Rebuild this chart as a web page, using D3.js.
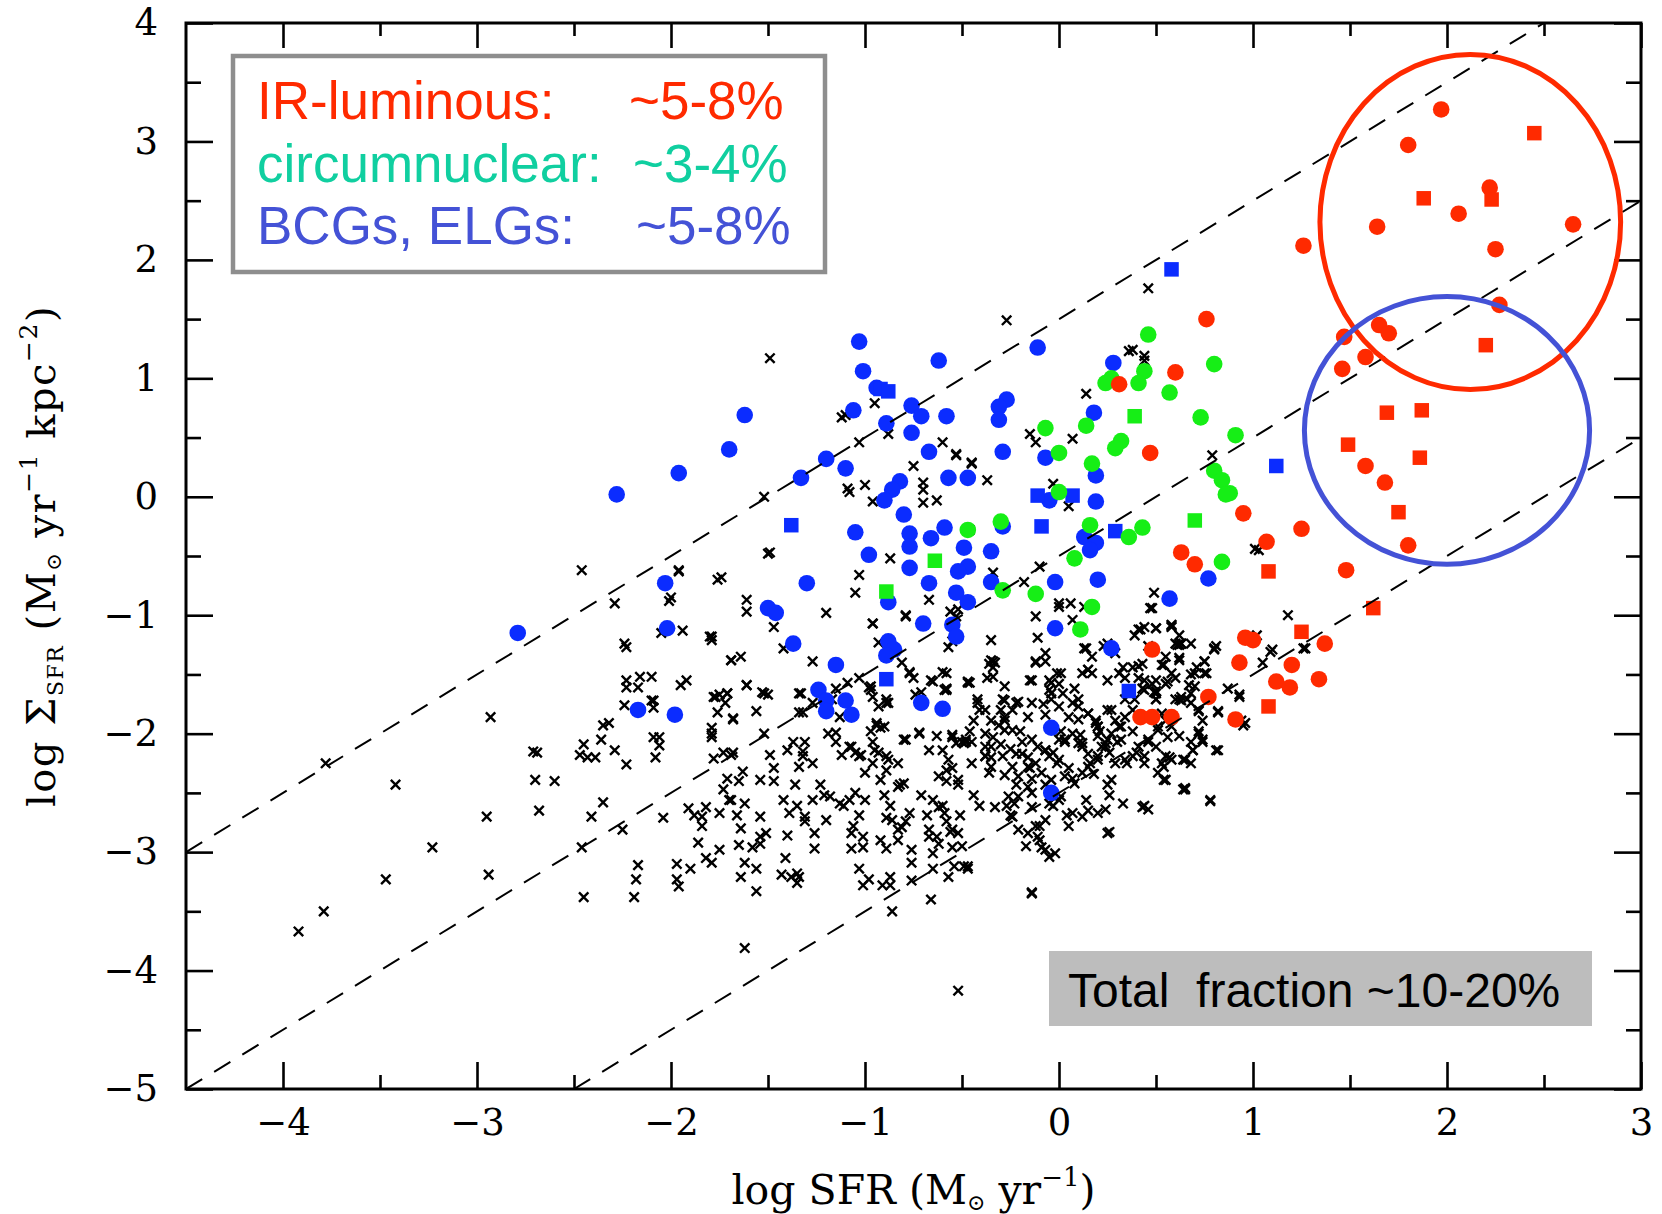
<!DOCTYPE html>
<html><head><meta charset="utf-8">
<script src="https://cdn.jsdelivr.net/npm/d3@7"></script>
<style>body{margin:0;background:#fff}</style>
</head><body>
<svg id="chart" width="1662" height="1214"></svg>
<script>
// ---------------- DATA ----------------
const xTicks = [-4,-3,-2,-1,0,1,2,3];
const xMinorTicks = [-3.5,-2.5,-1.5,-0.5,0.5,1.5,2.5];
const yTicks = [4,3,2,1,0,-1,-2,-3,-4,-5];
const yMinorTicks = [3.5,2.5,1.5,0.5,-0.5,-1.5,-2.5,-3.5,-4.5];
const lineOffsets = [1.5,-0.5,-2.5]; // dashed lines: y = x + c

const legendLabels = ["IR-luminous:","circumnuclear:","BCGs, ELGs:"];
const legendValues = ["~5-8%","~3-4%","~5-8%"];
const totalLabel = "Total  fraction ~10-20%";

// annotation ellipses: [cx, cy, rx, ry] in data units
const redRing = [2.12,2.32,0.775,1.415];
const blueRing = [2.0,0.56,0.735,1.13];

const redCircles = [[1.97,3.27],[1.80,2.97],[2.22,2.61],[2.06,2.39],[1.64,2.28],[2.65,2.30],[2.25,2.09],[1.26,2.12],[2.27,1.62],[1.65,1.45],[1.70,1.38],[1.47,1.35],[1.58,1.18],[1.46,1.08],[1.58,0.26],[1.68,0.12],[1.80,-0.41],
[0.76,1.50],[0.60,1.05],[0.31,0.95],[0.47,0.37],[0.95,-0.14],[1.25,-0.27],[1.07,-0.38],[0.63,-0.47],[0.70,-0.57],[1.48,-0.62],[1.37,-1.24],[0.96,-1.19],[1.00,-1.21],[0.93,-1.40],[0.48,-1.29],[1.20,-1.42],[1.12,-1.56],[1.19,-1.61],[1.34,-1.54],[0.77,-1.69],[0.91,-1.88],[0.42,-1.86],[0.48,-1.86],[0.58,-1.86]];
const redSquares = [[2.45,3.07],[1.88,2.52],[2.23,2.51],[2.20,1.28],[1.69,0.71],[1.87,0.73],[1.49,0.44],[1.86,0.33],[1.75,-0.13],[1.08,-0.63],[1.62,-0.94],[1.25,-1.14],[1.08,-1.77]];

const greenCircles = [[0.46,1.37],[0.80,1.12],[0.27,1.00],[0.24,0.96],[0.44,1.06],[0.41,0.96],[0.57,0.88],[0.73,0.67],[0.91,0.52],[-0.07,0.58],[0.14,0.60],[0.32,0.47],[0.29,0.41],[0.00,0.37],[0.17,0.28],[0.80,0.22],[0.84,0.14],[0.88,0.03],[0.86,0.02],[0.00,0.04],[-0.30,-0.21],[-0.47,-0.28],[0.16,-0.24],[0.43,-0.26],[0.36,-0.34],[0.08,-0.52],[0.84,-0.55],[-0.29,-0.79],[-0.12,-0.82],[0.17,-0.93],[0.11,-1.12]];
const greenSquares = [[0.39,0.68],[0.70,-0.20],[-0.64,-0.54],[-0.89,-0.80]];

const blueCircles = [[-1.03,1.31],[-0.62,1.15],[-1.01,1.06],[-0.94,0.92],[-1.06,0.73],[-0.76,0.77],[-0.71,0.68],[-0.58,0.68],[-0.89,0.62],[-0.76,0.54],[-0.67,0.38],[-1.62,0.69],[-1.70,0.40],[-1.96,0.20],[-2.28,0.02],[-1.20,0.32],[-1.10,0.24],[-1.33,0.16],[-0.82,0.13],[-0.86,0.06],[-0.90,-0.03],[-0.57,0.16],[-0.47,0.16],[-0.80,-0.15],[-1.05,-0.30],[-0.77,-0.31],[-0.77,-0.42],[-0.59,-0.26],[-0.66,-0.35],[-0.49,-0.43],[-0.98,-0.49],[-0.77,-0.60],[-0.47,-0.59],[-0.52,-0.63],[-0.67,-0.73],[-0.53,-0.81],[-0.47,-0.89],[-0.88,-0.89],[-2.03,-0.73],[-1.30,-0.73],[-1.50,-0.94],[-1.46,-0.98],[-0.70,-1.07],[-0.55,-1.08],[-0.53,-1.18],[-2.02,-1.11],[-2.79,-1.15],[-1.37,-1.24],[-0.88,-1.22],[-0.85,-1.29],[-0.89,-1.34],[-1.15,-1.42],[-1.24,-1.63],[-1.20,-1.72],[-1.20,-1.81],[-1.10,-1.72],[-1.07,-1.84],[-0.71,-1.74],[-0.60,-1.79],[-2.17,-1.80],[-1.98,-1.84],
[-0.11,1.26],[0.28,1.13],[-0.27,0.82],[-0.31,0.76],[-0.31,0.65],[0.18,0.71],[-0.29,0.38],[-0.07,0.33],[0.19,0.18],[-0.05,-0.03],[0.19,-0.04],[-0.29,-0.25],[0.13,-0.34],[0.19,-0.39],[0.16,-0.45],[-0.35,-0.46],[-0.35,-0.72],[-0.02,-0.72],[0.20,-0.70],[0.77,-0.69],[0.57,-0.86],[-0.02,-1.11],[0.27,-1.28],[-0.04,-1.95],[-0.04,-2.50]];
const blueSquares = [[-0.92,0.91],[-0.88,0.89],[-1.38,-0.24],[-0.89,-1.54],[-0.11,0.01],[0.07,0.01],[-0.09,-0.25],[0.29,-0.29],[0.36,-1.64],[1.12,0.26],[0.58,1.92]];

const crossPoints = [
[-3.92,-3.67],[-3.79,-3.50],[-3.78,-2.25],[-3.47,-3.23],[-3.42,-2.43],[-3.23,-2.96],[-2.93,-1.86],[-2.95,-2.70],[-2.94,-3.19],
[-2.69,-2.16],[-2.70,-2.39],[-2.60,-2.40],[-2.68,-2.65],[-2.45,-3.38],[-2.41,-2.70],[-2.35,-2.58],[-2.46,-2.96],[-2.25,-2.81],
[-2.17,-3.11],[-2.18,-3.23],[-2.23,-1.27],[-2.23,-1.55],[-2.16,-1.52],[-2.10,-1.52],[-2.23,-1.61],[-2.17,-1.61],[-2.10,-1.72],
[-2.32,-1.91],[-2.35,-1.93],[-2.45,-2.09],[-2.36,-2.05],[-2.29,-2.14],[-2.47,-2.18],[-2.43,-2.20],[-2.39,-2.20],[-2.23,-2.26],
[-2.09,-2.03],[-2.08,-2.20],[-2.46,-0.62],[-2.29,-0.90],[-1.96,-0.63],[-2.01,-0.88],[-1.79,-1.21],[-1.76,-0.70],[-1.94,-1.13],
[-2.24,-1.24],[-2.09,-1.78],[-2.06,-2.10],[-2.04,-2.71],[-1.97,-3.10],[-1.97,-3.23],[-2.19,-3.38],[-1.96,-3.29],[-1.90,-3.14],
[-2.71,-2.15],[-2.05,-1.15],[-1.52,0.00],[-1.49,1.17],[-1.49,-0.47],[-1.50,-0.48],[-1.47,-1.10],[-1.64,-1.35],[-1.62,-3.81],
[-1.91,-2.63],[-1.88,-2.69],[-1.84,-2.78],[-1.86,-2.92],[-1.82,-3.05],[-1.75,-1.67],[-1.73,-2.16],[-1.71,-2.38],[-1.69,-2.56],
[-1.66,-2.69],[-1.64,-2.80],[-1.58,-2.96],[-1.56,-3.14],[-1.54,-2.87],[-1.49,-2.18],[-1.47,-2.29],[-1.41,-3.05],[-1.38,-3.21],
[-1.35,-2.61],[-1.31,-2.74],[-1.34,-3.21],[-1.31,-2.07],[-1.27,-2.25],[-1.23,-2.43],[-1.21,-2.52],[-1.20,-0.98],[-1.17,-1.71],
[-1.15,-1.62],[-1.15,-2.07],[-1.12,-2.18],[-1.11,-2.61],[-1.06,-2.78],[-1.10,0.69],[-1.09,0.07],[-1.05,-0.81],[-1.03,-1.53],
[-1.03,-2.69],[-1.01,-2.96],[-0.98,-3.23],[-0.97,-1.98],[-0.96,-2.07],[-0.93,-2.16],[-0.95,0.79],[-0.90,-2.52],[-0.87,-2.61],
[-0.88,0.53],[-0.87,-3.28],[-0.86,-3.50],[-0.83,-2.25],[-0.82,-2.43],[-0.81,-1.40],[-0.79,-2.74],[-0.75,-1.53],[-0.74,-1.67],
[-0.75,0.26],[-0.70,0.06],[-0.71,-2.52],[-0.68,-2.69],[-0.67,-2.87],[-0.66,-3.40],[-0.63,-2.02],[-0.60,-2.14],[-0.60,-2.61],
[-0.58,-2.74],[-0.56,-2.83],[-0.55,-2.96],[-0.58,-1.62],[-0.55,-2.29],[-0.52,-2.43],[-0.53,0.35],[-0.52,-0.95],[-0.52,-4.17],
[-0.51,-2.69],[-0.49,-3.12],[-0.47,-3.14],[-0.46,-1.98],[-0.45,-2.07],[-0.44,-1.89],[-0.46,-0.28],[-0.44,-2.52],[-0.41,-2.61],
[-0.38,-2.11],[-0.35,-2.20],[-0.37,-1.53],[-0.34,-1.44],[-0.33,-1.40],[-0.30,-1.80],[-0.28,-1.89],[-0.27,1.49],[-0.27,-2.61],
[-0.25,-2.69],[-0.22,-2.43],[-0.21,-2.53],[-0.20,-1.98],[-0.19,-2.07],[-0.16,-2.20],[-0.15,-2.29],[-0.14,-2.38],[-0.14,-3.34],
[-0.12,-2.78],[-0.11,-2.87],[-0.09,-2.96],[-0.08,-1.75],[-0.07,-1.84],[-0.07,-2.43],[-0.04,-2.52],[-0.03,-2.61],[-0.03,-2.16],
[-0.01,-2.25],[-0.01,-1.49],[0.00,-1.58],[0.01,-1.98],[0.03,-2.07],[0.04,-2.69],[0.05,-2.78],[0.05,-2.29],[0.07,-2.38],[0.08,-1.62],
[0.10,-1.71],[0.11,-2.01],[0.12,-2.11],[0.14,-2.56],[0.15,-2.65],[0.16,-2.25],[0.18,-2.34],[0.17,-1.35],[0.19,-1.89],[0.21,-1.98],
[0.22,-2.11],[0.23,-1.26],[0.25,-2.43],[0.26,-2.52],[0.26,-2.83],[0.27,-1.80],[0.29,-1.89],[0.30,-2.07],[0.33,-1.44],[0.34,-1.53],
[0.34,-1.71],[0.35,-2.25],[0.38,-1.98],[0.39,-1.17],[0.41,-1.53],[0.43,-1.62],[0.44,-2.61],[0.46,-1.26],[0.46,-2.07],[0.46,1.76],
[0.49,-0.81],[0.50,-1.71],[0.55,-1.89],[0.55,-1.35],[0.57,-2.20],[0.60,-1.53],[0.62,-1.17],[0.64,-2.47],[0.66,-1.71],[0.68,-2.07],
[0.71,-1.44],[0.74,-1.89],[0.78,-2.56],[0.79,0.35],[0.81,-1.26],[0.87,-1.62],[0.94,-1.89],[1.01,-0.44],[1.02,-1.17],[1.05,-1.40],
[1.18,-1.00],[0.38,1.24],[0.44,1.19],[0.36,1.23],[0.44,1.15],[0.14,0.87],[-0.15,0.53],[-0.12,0.46],[0.07,0.49],[-0.45,0.28],
[-0.37,0.14],[-0.03,0.11],[0.05,-0.08],[1.03,-0.45],[-0.10,-0.59],[-0.18,-0.72],[-0.34,-0.64],[0.00,-0.93],[0.06,-0.90],
[0.47,-0.94],[0.42,-1.12],[0.50,-1.11],[0.58,-1.10],[-0.11,-1.19],[0.14,-1.28],[0.62,-1.25],[0.80,-1.29],[0.75,-1.39],[1.10,-1.29],
[1.27,-1.28],[-0.34,-1.39],[-0.12,-1.39],[-0.07,-1.32],[0.01,-1.49],[0.12,-1.49],[0.15,-1.46],[-0.46,-1.57],[-0.34,-1.52],
[-0.15,-1.55],[-0.05,-1.55],[-0.04,-1.66],[-0.42,-1.74],[-0.22,-1.74],[-0.28,-1.72],[0.31,-1.49],[0.41,-1.43],[0.44,-1.55],
[0.50,-1.64],[0.53,-1.42],[0.62,-1.36],[0.68,-1.50],[0.76,-1.49],[0.70,-1.60],[0.60,-1.71],[0.63,-1.69],[0.72,-1.81],[0.82,-1.82],
[0.93,-1.67],[0.96,-1.91],[0.72,-2.00],[0.74,-2.05],[0.82,-2.14],[0.69,-2.14],[0.51,-1.97],[0.56,-2.03],[0.50,-2.11],[0.32,-2.05],
[0.20,-1.94],[0.24,-2.08],[0.15,-1.83],[0.05,-1.86],[-0.28,-1.86],[-0.24,-1.97],[-0.34,-2.03],[-0.41,-1.80],[-0.48,-2.07],
[-0.19,-2.17],[-0.07,-2.14],[0.00,-2.05],[0.10,-2.08],[0.20,-2.19],[0.26,-2.16],[0.40,-2.16],[0.44,-2.25],[0.58,-2.22],[0.68,-2.25],
[-0.38,-2.19],[-0.45,-2.25],[0.50,-1.11],[0.58,-1.09],[0.61,-1.25],[0.63,-1.24],[0.54,-1.42],[0.62,-1.38],[0.75,-1.39],[0.80,-1.28],
[0.70,-1.49],[0.75,-1.49],[0.56,-1.56],[0.50,-1.66],[0.67,-1.59],[0.68,-1.66],[0.63,-1.72],[0.72,-1.80],[0.82,-1.81],[0.93,-1.69],
[1.09,-1.31],[1.26,-1.28],[0.95,-1.93],[0.72,-1.98],[0.74,-2.07],[0.69,-2.14],[0.64,-2.22],[0.81,-2.14],[0.54,-2.28],[0.54,-2.39],
[0.65,-2.46],[0.78,-2.57],[0.46,-2.64],[0.49,-1.65],[0.48,-0.94],
[-1.80,-1.18],[-1.69,-1.38],[-1.61,-1.59],[-1.52,-1.66],[-1.71,-1.66],[-1.77,-1.69],[-1.34,-1.66],[-1.56,-1.81],[-1.68,-1.87],
[-1.79,-1.95],[-1.79,-2.03],[-1.69,-2.18],[-1.78,-2.21],[-1.63,-2.32],[-1.54,-2.39],[-1.47,-2.40],[-1.40,-2.14],[-1.34,-2.28],
[-1.32,-2.19],[-1.36,-2.43],[-1.65,-2.40],[-1.73,-2.47],[-1.82,-2.62],[-1.84,-2.70],[-1.75,-2.67],[-1.70,-2.56],[-1.62,-2.59],
[-1.54,-2.70],[-1.42,-2.56],[-1.39,-2.67],[-1.31,-2.70],[-1.27,-2.56],[-1.20,-2.73],[-1.13,-2.59],[-1.08,-2.56],[-1.05,-2.50],
[-1.00,-2.56],[-1.18,-2.53],[-1.26,-2.84],[-1.40,-2.86],[-1.51,-2.84],[-1.54,-2.93],[-1.65,-2.94],[-1.75,-2.98],[-1.79,-3.09],
[-1.62,-3.09],[-1.35,-3.18],[-1.35,-3.26],[-1.43,-3.19],[-1.64,-3.21],[-1.56,-3.33],[-1.26,-2.97],[-1.07,-2.97],[-1.07,-2.84],
[-1.01,-2.87],[-1.03,-3.14],[-1.01,-3.28],[-0.91,-3.28],[-0.87,-3.21],[-0.89,-2.97],[-0.92,-2.90],[-0.83,-2.90],[-0.76,-2.98],
[-0.76,-3.09],[-0.83,-2.81],[-0.89,-2.71],[-0.86,-2.73],[-0.77,-2.67],[-0.81,-2.79],[-0.80,-2.42],[-0.92,-2.39],[-0.96,-2.25],
[-0.88,-2.22],[-0.89,-2.31],[-0.83,-2.45],[-0.89,-2.19],[-1.07,-2.11],[-1.05,-2.16],[-1.03,-2.19],[-1.00,-2.33],[-0.95,-2.14],
[-0.67,-2.14],[-0.62,-2.36],[-0.58,-2.40],[-0.52,-2.39],[-0.65,-2.56],[-0.62,-2.62],[-0.59,-2.67],[-0.67,-2.81],[-0.63,-2.87],
[-0.62,-2.93],[-0.65,-3.01],[-0.50,-2.95],[-0.55,-2.81],[-0.52,-2.84],[-0.47,-3.12],[-0.54,-3.12],[-0.57,-3.21],[-0.65,-3.14],
[-0.76,-3.24],[-0.58,-2.31],[-0.57,-2.22],[-0.72,-1.99],[-0.80,-2.05],[-0.55,-2.03],[-0.53,-2.08],[-0.50,-2.07],[-0.48,-2.05],
[-0.42,-1.71],[-0.60,-1.48],[-0.65,-1.56],[-0.59,-1.63],[-0.77,-1.48],[-0.71,-1.65],[-0.89,-1.71],[-0.88,-1.74],[-0.97,-1.63],
[-0.94,-1.93],[-0.92,-1.95],[-0.96,-1.69],[-0.93,-1.77],[-0.79,-1.01],[-0.96,-1.07],[-0.57,-1.27],[-0.55,-1.22],[-0.47,-1.56],
[-0.35,-1.38],[-0.21,-1.73],[-0.29,-1.71],[-0.35,-1.89],[-0.31,-1.93],[-0.28,-1.97],[-0.38,-2.00],[-0.30,-2.09],[-0.25,-2.13],
[-0.22,-2.17],[-0.29,-2.19],[-0.24,-2.28],[-0.35,-2.28],[-0.36,-2.33],[-0.28,-2.35],[-0.21,-2.36],[-0.16,-2.28],[-0.14,-2.05],
[-0.11,-2.11],[-0.07,-2.14],[-0.05,-2.19],[0.00,-2.22],[-0.12,-2.25],[-0.09,-2.33],[-0.16,-2.45],[-0.14,-2.50],[-0.26,-2.53],
[-0.23,-2.59],[-0.33,-2.62],[-0.04,-2.39],[0.03,-2.36],[0.08,-2.42],[0.12,-2.33],[0.15,-2.28],[0.20,-2.22],[0.24,-2.11],[0.27,-2.00],
[0.31,-1.94],[0.34,-1.86],[0.38,-1.80],[0.20,-2.02],[0.25,-2.05],[0.19,-1.91],[0.03,-2.05],[0.07,-2.00],[0.12,-2.08],[0.15,-2.17],
[0.29,-2.25],[0.34,-2.22],[0.38,-2.19],[0.46,-2.05],[0.44,-2.19],[0.51,-2.33],[0.55,-2.19],[0.58,-1.94],[0.62,-2.02],[0.65,-2.47],
[0.43,-2.62],[0.25,-2.84],[0.24,-2.64],[0.20,-2.67],[0.12,-2.70],[0.07,-2.67],[0.00,-2.56],[-0.05,-2.59],[-0.14,-2.62],[-0.10,-2.78],
[-0.21,-2.81],[-0.16,-2.84],[-0.24,-2.70],[-0.07,-2.73],[-0.10,-2.90],[-0.07,-2.98],[-0.14,-3.35],[-0.05,-3.04],[-0.02,-3.01],
[-0.17,-2.95],[0.01,-2.53],[0.27,-2.39],[0.33,-2.59],[0.41,-2.11],[0.39,-1.71],[0.44,-1.63],[0.50,-1.55],[0.58,-1.49],[0.41,-1.12],
[0.44,-1.10],[0.58,-1.08],[0.43,-1.41],[0.48,-1.58],[0.50,-1.71],[0.55,-1.58],[0.62,-1.71],[0.68,-1.24],[0.60,-1.24],[0.63,-1.24],
[0.53,-2.25],[0.55,-2.39],[0.65,-2.22],[0.13,-0.93],[0.07,-1.04],[0.00,-0.90],[-0.12,-1.01],[0.13,-1.28],[0.15,-1.46],[-0.12,-1.40],
[-0.14,-1.55],[-0.07,-1.39],[-0.04,-1.57],[-0.05,-1.63],[-0.04,-1.71],[0.00,-1.77],[0.07,-1.74],[0.10,-1.77],[0.02,-1.66],[0.10,-1.88],
[0.15,-1.83],[0.20,-1.94],[0.25,-1.80],[0.32,-1.94],[0.17,-1.49],[0.25,-1.55],[0.25,-1.24],[0.29,-1.32],[0.38,-1.44],[0.53,-1.83],
[0.51,-1.94],[0.68,-1.74],[-0.35,-1.21],[-0.36,-1.41],[-0.28,-1.60],[-0.38,-1.80],[-0.24,-1.80],[-0.16,-1.86],[-0.14,-1.74],
[-0.35,-2.11],[-0.38,-2.19],
[-1.12,0.67],[-1.03,0.46],[-0.60,0.46],[-0.53,0.36],[-0.45,0.29],[-1.08,0.04],[-1.00,0.10],[-0.96,-0.04],[-0.70,0.12],[-0.70,-0.05],
[-0.63,-0.03],[-1.96,-0.62],[-1.74,-0.68],[-1.03,-0.66],[-0.87,-0.52],[-2.00,-0.85],[-1.61,-0.87],[-1.61,-0.97],[-0.67,-0.87],
[-0.79,-1.00],[-0.96,-1.07],[-0.56,-0.97],[-0.53,-1.01],[-1.79,-1.18],[-1.69,-1.38],[-1.42,-1.28],[-1.27,-1.39],[-0.93,-1.23],
[-0.77,-1.49],[-0.66,-1.55],[-0.58,-1.49],[-0.58,-1.63],[-0.47,-1.57],[-1.09,-1.57],[-0.98,-1.61],[-1.92,-1.55],[-1.95,-1.59],
[-2.09,-1.72],[-2.24,-1.76],[-1.61,-1.59],[-1.71,-1.66],[-1.72,-1.74],[-1.53,-1.65],[-1.50,-1.67],[-1.78,-1.69],[-1.76,-1.82],
[-1.79,-2.00],[-1.68,-1.88],[-1.33,-1.66],[-1.34,-1.82],[-1.32,-1.82],[-1.27,-1.74],[-1.13,-1.86],[-0.97,-1.60],[-0.89,-1.74],
[-0.94,-1.91],[-0.90,-1.94],[-1.19,-2.00],[-1.15,-1.99],[-1.08,-2.11],[-1.02,-2.18],[-1.37,-2.07],[-1.32,-2.15],[-0.79,-2.05],
[-0.72,-2.00],[-0.55,-2.01],[-0.49,-2.08],[-1.52,-2.00],[-1.68,-2.16],[-2.06,-2.03]
];

// ---------------- CHART ----------------
const svg = d3.select('#chart');
const x = d3.scaleLinear().domain([-4.5,3]).range([186,1641]);
const y = d3.scaleLinear().domain([-5,4]).range([1089,23]);
const serif = "'DejaVu Serif', 'Liberation Serif', serif";
const sans = "'Liberation Sans', Arial, sans-serif";
const RED = '#ff2a00', GREEN = '#16ee16', BLUE = '#0b2cff';

svg.append('rect').attr('width',1662).attr('height',1214).attr('fill','#fff');

const pBottom = y(-5), pTop = y(4), pLeft = x(-4.5), pRight = x(3);

// clip to plot area
svg.append('clipPath').attr('id','plotclip').append('rect')
  .attr('x',pLeft).attr('y',pTop).attr('width',pRight-pLeft).attr('height',pBottom-pTop);
const plot = svg.append('g').attr('clip-path','url(#plotclip)');

// crosses
plot.append('g').selectAll('path').data(crossPoints).join('path')
  .attr('d', d => { const px = x(d[0]), py = y(d[1]), s = 4.7;
    return `M${px-s},${py-s}L${px+s},${py+s}M${px-s},${py+s}L${px+s},${py-s}`; })
  .attr('stroke','#000').attr('stroke-width',2.4).attr('fill','none');

function circles(data,color){
  plot.append('g').selectAll('circle').data(data).join('circle')
    .attr('cx',d=>x(d[0])).attr('cy',d=>y(d[1])).attr('r',8.3).attr('fill',color);
}
function squares(data,color){
  const s = 14.5;
  plot.append('g').selectAll('rect').data(data).join('rect')
    .attr('x',d=>x(d[0])-s/2).attr('y',d=>y(d[1])-s/2).attr('width',s).attr('height',s).attr('fill',color);
}
circles(blueCircles,BLUE); squares(blueSquares,BLUE);
circles(greenCircles,GREEN); squares(greenSquares,GREEN);
circles(redCircles,RED); squares(redSquares,RED);

// dashed lines y = x + c
plot.append('g').selectAll('line').data(lineOffsets).join('line')
  .attr('x1',c=>x(Math.max(-4.5,-5-c))).attr('y1',c=>y(Math.max(-4.5,-5-c)+c))
  .attr('x2',c=>x(Math.min(3,4-c))).attr('y2',c=>y(Math.min(3,4-c)+c))
  .attr('stroke','#000').attr('stroke-width',2).attr('stroke-dasharray','19,14');

// axes
function styleAxis(sel){
  sel.select('.domain').remove();
  sel.selectAll('line').attr('stroke','#000').attr('stroke-width',2.6);
  sel.selectAll('text').attr('font-family',serif).attr('font-size',37).attr('fill','#000');
}
svg.append('g').attr('transform',`translate(0,${pBottom})`)
  .call(d3.axisBottom(x).tickValues(xTicks).tickSizeInner(-27).tickSizeOuter(0).tickPadding(20)).call(styleAxis);
svg.append('g').attr('transform',`translate(0,${pBottom})`)
  .call(d3.axisBottom(x).tickValues(xMinorTicks).tickSize(-14).tickFormat('')).call(styleAxis);
svg.append('g').attr('transform',`translate(0,${pTop})`)
  .call(d3.axisTop(x).tickValues(xTicks).tickSize(-25).tickFormat('')).call(styleAxis);
svg.append('g').attr('transform',`translate(0,${pTop})`)
  .call(d3.axisTop(x).tickValues(xMinorTicks).tickSize(-13).tickFormat('')).call(styleAxis);
svg.append('g').attr('transform',`translate(${pLeft},0)`)
  .call(d3.axisLeft(y).tickValues(yTicks).tickSizeInner(-27).tickSizeOuter(0).tickPadding(28)).call(styleAxis);
svg.append('g').attr('transform',`translate(${pLeft},0)`)
  .call(d3.axisLeft(y).tickValues(yMinorTicks).tickSize(-15).tickFormat('')).call(styleAxis);
svg.append('g').attr('transform',`translate(${pRight},0)`)
  .call(d3.axisRight(y).tickValues(yTicks).tickSize(-27).tickFormat('')).call(styleAxis);
svg.append('g').attr('transform',`translate(${pRight},0)`)
  .call(d3.axisRight(y).tickValues(yMinorTicks).tickSize(-15).tickFormat('')).call(styleAxis);

// frame
svg.append('rect').attr('x',pLeft).attr('y',pTop).attr('width',pRight-pLeft).attr('height',pBottom-pTop)
  .attr('fill','none').attr('stroke','#000').attr('stroke-width',3);

// axis titles
const xt = svg.append('text').attr('x',(pLeft+pRight)/2).attr('y',1204).attr('text-anchor','middle')
  .attr('font-family',serif).attr('font-size',41).attr('fill','#000');
xt.append('tspan').text('log SFR (M');
xt.append('tspan').attr('font-size',22).attr('dy',6).text('⊙');
xt.append('tspan').attr('dy',-6).text(' yr');
xt.append('tspan').attr('font-size',26).attr('dy',-18).text('−1');
xt.append('tspan').attr('dy',18).text(')');

const yt = svg.append('text').attr('transform','translate(55,556) rotate(-90)').attr('text-anchor','middle')
  .attr('font-family',serif).attr('font-size',40).attr('letter-spacing',1.5).attr('fill','#000');
yt.append('tspan').text('log Σ');
yt.append('tspan').attr('font-size',22).attr('dy',8).text('SFR');
yt.append('tspan').attr('dy',-8).text('  (M');
yt.append('tspan').attr('font-size',21).attr('dy',6).text('⊙');
yt.append('tspan').attr('dy',-6).text(' yr');
yt.append('tspan').attr('font-size',25).attr('dy',-18).text('−1');
yt.append('tspan').attr('dy',18).text(' kpc');
yt.append('tspan').attr('font-size',25).attr('dy',-18).text('−2');
yt.append('tspan').attr('dy',18).text(')');

// annotation ellipses
[[redRing,RED],[blueRing,'#4452d6']].forEach(([e,col])=>{
  svg.append('ellipse').attr('cx',x(e[0])).attr('cy',y(e[1]))
    .attr('rx',x(e[0]+e[2])-x(e[0])).attr('ry',y(e[1])-y(e[1]+e[3]))
    .attr('fill','none').attr('stroke',col).attr('stroke-width',5);
});

// legend box
svg.append('rect').attr('x',233).attr('y',56).attr('width',592).attr('height',216)
  .attr('fill','#fff').attr('stroke','#8e8e8e').attr('stroke-width',4.5);
const legColors = [RED,'#10cfa0','#4452d6'];
const legBase = [119,182,244];
const valX = [629,633,636];
legendLabels.forEach((t,i)=>{
  svg.append('text').attr('x',257).attr('y',legBase[i]).attr('font-family',sans).attr('font-size',53)
    .attr('fill',legColors[i]).text(t);
  svg.append('text').attr('x',valX[i]).attr('y',legBase[i]).attr('font-family',sans).attr('font-size',53)
    .attr('fill',legColors[i]).text(legendValues[i]);
});

// total fraction box
svg.append('rect').attr('x',1049).attr('y',951).attr('width',543).attr('height',75).attr('fill','#bdbdbd');
svg.append('text').attr('x',1068).attr('y',1007).attr('font-family',sans).attr('font-size',48)
  .attr('fill','#000').style('white-space','pre').text(totalLabel);
</script>
</body></html>
